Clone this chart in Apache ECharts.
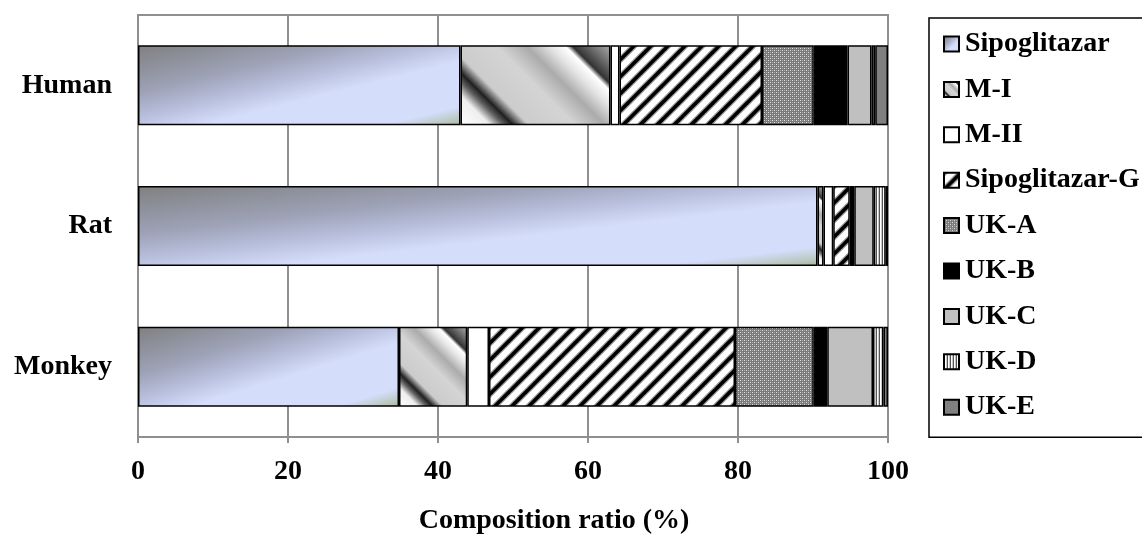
<!DOCTYPE html>
<html>
<head>
<meta charset="utf-8">
<script src="https://cdn.jsdelivr.net/npm/echarts@6/dist/echarts.min.js"></script>
<style>
  html, body { margin: 0; padding: 0; background: #fff; }
  #chart { width: 1142px; height: 545px; }
</style>
</head>
<body>
<div id="chart"></div>
<script>
// Metabolite composition of each species (%)
const categories = ['Human', 'Rat', 'Monkey'];
const sipoglitazar = [43.0, 90.6, 34.8];
const mI = [20.0, 0.8, 9.1];
const mII = [1.2, 1.3, 2.9];
const sipoglitazarG = [19.0, 2.2, 32.8];
const ukA = [6.9, 0.3, 10.5];
const ukB = [4.5, 0.3, 1.8];
const ukC = [3.2, 2.6, 6.1];
const ukD = [0.5, 1.6, 1.4];
const ukE = [1.7, 0.3, 0.6];
const xTicks = [0, 20, 40, 60, 80, 100];

const FONT = '"Liberation Serif", "Times New Roman", serif';
const FS = 28;

// plot geometry (px) used to shape the gradients of each bar segment
const GRID = { left: 138, right: 254, top: 15, bottom: 108 };
const PLOT_W = 1142 - GRID.left - GRID.right;
const BAR_H = 80;

// ---- fill helpers ----
function tile(w, h, draw) {
  const c = document.createElement('canvas');
  c.width = w; c.height = h;
  draw(c.getContext('2d'), w, h);
  return { image: c, repeat: 'repeat' };
}

// bold diagonal black/white stripes
const diagStripes = tile(17, 17, (g, w, h) => {
  g.fillStyle = '#fff';
  g.fillRect(0, 0, w, h);
  [[6, '#9a9a9a'], [3.6, '#000']].forEach(([lw, col]) => {
    g.strokeStyle = col;
    g.lineWidth = lw;
    for (let c = -w; c <= 3 * w; c += w) {
      g.beginPath();
      g.moveTo(c + h, -h);
      g.lineTo(c - 2 * h, 2 * h);
      g.stroke();
    }
  });
});

// fine dotted gray
const dotted = tile(4, 4, (g) => {
  g.fillStyle = '#7a7a7a';
  g.fillRect(0, 0, 4, 4);
  g.fillStyle = '#e0e0e0';
  g.fillRect(0, 0, 1, 1);
  g.fillRect(2, 2, 1, 1);
  g.fillStyle = '#a8a8a8';
  g.fillRect(2, 0, 1, 1);
  g.fillRect(0, 2, 1, 1);
});

// narrow vertical lines
const vLines = tile(3, 4, (g) => {
  g.fillStyle = '#ffffff';
  g.fillRect(0, 0, 3, 4);
  g.fillStyle = '#555555';
  g.fillRect(0, 0, 1, 4);
  g.fillStyle = '#c8c8c8';
  g.fillRect(2, 0, 1, 4);
});

const lavenderStops = [
  { offset: 0, color: '#808080' },
  { offset: 0.3, color: '#9da2b7' },
  { offset: 0.46, color: '#b9c0dd' },
  { offset: 0.6, color: '#d4ddfa' },
  { offset: 0.88, color: '#d4ddfa' },
  { offset: 0.96, color: '#b9c7bc' },
  { offset: 1, color: '#a3b59a' }
];

const metallicStops = [
  { offset: 0, color: '#ffffff' },
  { offset: 0.13, color: '#eeeeee' },
  { offset: 0.19, color: '#606060' },
  { offset: 0.23, color: '#202020' },
  { offset: 0.3, color: '#cccccc' },
  { offset: 0.5, color: '#d4d4d4' },
  { offset: 0.63, color: '#ababab' },
  { offset: 0.73, color: '#e4e4e4' },
  { offset: 0.8, color: '#ffffff' },
  { offset: 0.83, color: '#333333' },
  { offset: 0.92, color: '#767676' },
  { offset: 1, color: '#acacac' }
];

// light-to-dark sweep whose colour bands follow the segment's own diagonal
function lavenderFill(v) {
  const w = Math.max(v / 100 * PLOT_W, 1), h = BAR_H, d = w * w + h * h;
  return { type: 'linear', x: 0, y: 0, x2: 2 * h * h / d, y2: 2 * w * w / d, colorStops: lavenderStops };
}
// metallic bands at 45 degrees, running from lower-left to upper-right
function metallicFill(v) {
  const w = Math.max(v / 100 * PLOT_W, 1), h = BAR_H, s = (w + h) / 2;
  return { type: 'linear', x: 0, y: 1, x2: s / w, y2: 1 - s / h, colorStops: metallicStops };
}

const seriesDefs = [
  ['Sipoglitazar', sipoglitazar, { type: 'linear', x: 0, y: 0, x2: 1, y2: 1, colorStops: lavenderStops }, lavenderFill],
  ['M-I', mI, { type: 'linear', x: 0, y: 1, x2: 1, y2: 0, colorStops: metallicStops }, metallicFill],
  ['M-II', mII, '#ffffff'],
  ['Sipoglitazar-G', sipoglitazarG, diagStripes],
  ['UK-A', ukA, dotted],
  ['UK-B', ukB, '#000000'],
  ['UK-C', ukC, '#c0c0c0'],
  ['UK-D', ukD, vLines],
  ['UK-E', ukE, '#808080']
];

const chart = echarts.init(document.getElementById('chart'), null, { renderer: 'canvas' });

chart.setOption({
  animation: false,
  backgroundColor: '#ffffff',
  grid: {
    left: GRID.left, right: GRID.right, top: GRID.top, bottom: GRID.bottom,
    show: true, borderColor: '#8f8f8f', borderWidth: 2, backgroundColor: 'transparent'
  },
  legend: {
    orient: 'vertical',
    left: 929, top: 18,
    padding: [12, 40, 16, 14],
    itemGap: 17.4,
    itemWidth: 15, itemHeight: 15,
    icon: 'rect',
    borderColor: '#000', borderWidth: 1.5,
    textStyle: { fontFamily: FONT, fontWeight: 'bold', fontSize: FS, color: '#000', padding: [0, 0, 0, 1] },
    data: seriesDefs.map(d => d[0])
  },
  xAxis: {
    type: 'value',
    min: xTicks[0], max: xTicks[xTicks.length - 1], interval: 20,
    axisLine: { show: true, lineStyle: { color: '#8f8f8f', width: 2 } },
    axisTick: { show: true, length: 6, lineStyle: { color: '#8f8f8f', width: 2 } },
    splitLine: { show: true, lineStyle: { color: '#8f8f8f', width: 2 } },
    axisLabel: {
      margin: 21,
      fontFamily: FONT, fontWeight: 'bold', fontSize: FS, color: '#000'
    }
  },
  yAxis: {
    type: 'category',
    data: categories,
    inverse: true,
    axisLine: { show: true, lineStyle: { color: '#8f8f8f', width: 2 } },
    axisTick: { show: false },
    axisLabel: {
      margin: 26,
      padding: [4, 0, 0, 0],
      fontFamily: FONT, fontWeight: 'bold', fontSize: FS, color: '#000'
    }
  },
  graphic: [{
    type: 'text',
    x: 554, y: 521,
    style: {
      text: 'Composition ratio (%)',
      font: 'bold ' + FS + 'px ' + FONT,
      fill: '#000',
      textAlign: 'center',
      textVerticalAlign: 'middle'
    }
  }],
  series: seriesDefs.map(([name, values, fill, perItem]) => ({
    name,
    type: 'bar',
    stack: 'total',
    barWidth: BAR_H,
    data: perItem ? values.map(v => ({ value: v, itemStyle: { color: perItem(v) } })) : values,
    itemStyle: { color: fill, borderColor: '#000', borderWidth: 1.5 },
    emphasis: { disabled: true }
  }))
});
</script>
</body>
</html>
